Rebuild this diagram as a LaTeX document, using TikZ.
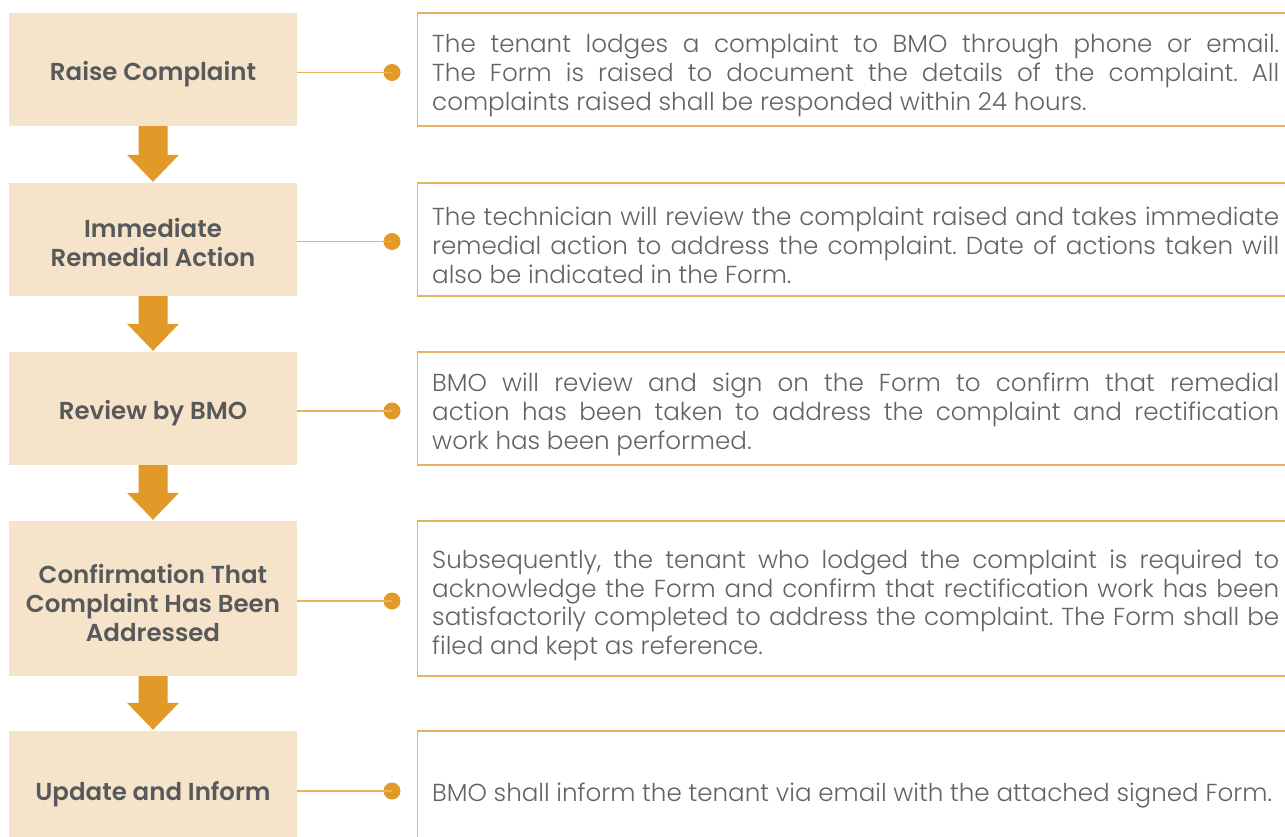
\documentclass[tikz,border=0pt]{standalone}
\usepackage{fontspec}
\setmainfont{Poppins}[UprightFont=* Light, BoldFont=* SemiBold]
\usetikzlibrary{calc}
\definecolor{boxfill}{HTML}{F6E4CA}
\definecolor{orng}{HTML}{E19A27}
\definecolor{lineor}{HTML}{EBB25E}
\definecolor{ltext}{HTML}{58595B}
\definecolor{rtext}{HTML}{636363}
\tikzset{
  stepbox/.style={rectangle, fill=boxfill, minimum width=288pt, inner sep=0pt},
  steptext/.style={inner sep=0pt, font=\bfseries\fontsize{24.5}{29}\selectfont,
    text=ltext, align=center},
  descbox/.style={rectangle, draw=lineor, line width=1.4pt, anchor=west,
    minimum width=880pt, inner sep=0pt},
  desctext/.style={anchor=west, text width=847pt, inner sep=0pt, align=justify,
    font=\fontsize{24.6}{28.8}\selectfont, text=rtext},
  conn/.style={draw=lineor, line width=1.5pt},
  dotnode/.style={circle, fill=orng, minimum size=17pt, inner sep=0pt},
  blockarrow/.style={fill=orng}
}
\newcommand{\blkarrow}[2]{%
  \fill[blockarrow] ($(#1.south)+(-14.5,0)$) -- ($(#1.south)+(14.5,0)$)
    -- ($(#2.north)+(14.5,-28)$) -- ($(#2.north)+(26,-28)$) -- ($(#2.north)+(0,-1)$)
    -- ($(#2.north)+(-26,-28)$) -- ($(#2.north)+(-14.5,-28)$) -- cycle;}
\begin{document}
\frenchspacing
\begin{tikzpicture}[x=1pt,y=-1pt]
\useasboundingbox (0,0) rectangle (1285,836);
\clip (0,0) rectangle (1285,836);
% left step boxes
\node[stepbox, minimum height=113pt] (b1) at (153,69.5) {};
\node[stepbox, minimum height=113pt] (b2) at (153,239.5) {};
\node[stepbox, minimum height=113pt] (b3) at (153,408.5) {};
\node[stepbox, minimum height=155pt] (b4) at (153,598.5) {};
\node[stepbox, minimum height=120pt] (b5) at (153,791) {};
\node[steptext] (b1t) at ($(b1.center)+(0,5)$) {Raise Complaint};
\node[steptext] (b2t) at ($(b2.center)+(0,3)$) {Immediate\\Remedial Action};
\node[steptext] (b3t) at ($(b3.center)+(0,5)$) {Review by BMO};
\node[steptext] (b4t) at ($(b4.center)+(0,4)$) {Confirmation That\\Complaint Has Been\\Addressed};
\node[steptext] (b5t) at ($(b5.center)+(0,3)$) {Update and Inform};
% block arrows
\blkarrow{b1}{b2}
\blkarrow{b2}{b3}
\blkarrow{b3}{b4}
\blkarrow{b4}{b5}
% description boxes
\node[descbox, minimum height=113pt] (r1) at (417,69.5) {};
\node[descbox, minimum height=113pt] (r2) at (417,239.5) {};
\node[descbox, minimum height=113pt] (r3) at (417,408.5) {};
\node[descbox, minimum height=155pt] (r4) at (417,598.5) {};
\node[descbox, minimum height=120pt] (r5) at (417,791) {};
\node[desctext] (r1t) at ($(r1.west)+(15,6)$) {The tenant lodges a complaint to BMO through phone or email.\linebreak The Form is raised to document the details of the complaint. All\linebreak complaints raised shall be responded within 24 hours.};
\node[desctext] (r2t) at ($(r2.west)+(15,6)$) {The technician will review the complaint raised and takes immediate\linebreak remedial action to address the complaint. Date of actions taken will\linebreak also be indicated in the Form.};
\node[desctext] (r3t) at ($(r3.west)+(15,6)$) {BMO will review and sign on the Form to confirm that remedial\linebreak action has been taken to address the complaint and rectification\linebreak work has been performed.};
\node[desctext] (r4t) at ($(r4.west)+(15,7)$) {Subsequently, the tenant who lodged the complaint is required to\linebreak acknowledge the Form and confirm that rectification work has been\linebreak satisfactorily completed to address the complaint. The Form shall be\linebreak filed and kept as reference.};
\node[desctext] (r5t) at ($(r5.west)+(15,4)$) {BMO shall inform the tenant via email with the attached signed Form.};
% connectors with dots
\foreach \i/\y in {1/72.5,2/241.5,3/411,4/601,5/791}{
  \node[dotnode] (d\i) at (392,\y) {};
  \draw[conn] (b\i.east |- d\i) -- (d\i.center);
}
\end{tikzpicture}
\end{document}
